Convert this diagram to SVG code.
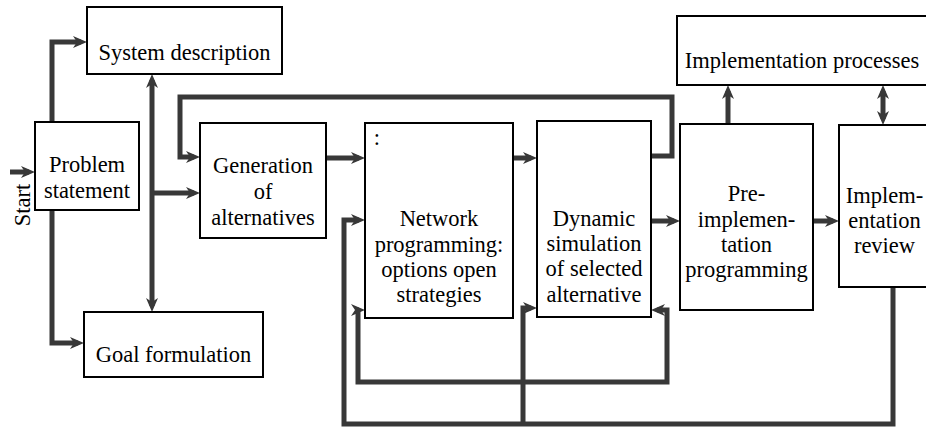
<svg xmlns="http://www.w3.org/2000/svg" width="926" height="428" viewBox="0 0 926 428">
<style>
.box{fill:#fff;stroke:#000;stroke-width:2}
.t{font-family:"Liberation Serif","Times New Roman",serif;font-size:22.5px;fill:#000;text-anchor:middle}
.c{fill:none;stroke:#383838;stroke-width:5;stroke-linejoin:miter;marker-end:url(#ah)}
.both{marker-start:url(#ah)}
</style>
<defs>
<marker id="ah" markerUnits="userSpaceOnUse" viewBox="0 0 14 14" markerWidth="14" markerHeight="14" refX="8" refY="7" orient="auto-start-reverse">
<path d="M0,1 L14,7 L0,13 L4,7 z" fill="#383838"/>
</marker>
</defs>
<rect width="926" height="428" fill="#fff"/>
<g id="connectors">
<path class="c" d="M10,172 H29"/>
<path class="c" d="M52,122 V42 H81"/>
<path class="c" d="M52,210 V343 H78"/>
<path class="c both" d="M152,80 V306"/>
<path class="c" d="M152,193 H194"/>
<path class="c" d="M651,156 H672 V97 H180 V157 H194"/>
<path class="c" d="M326,158 H359"/>
<path class="c" d="M513,158 H531"/>
<path class="c" d="M651,221 H674"/>
<path class="c" d="M813,221 H833"/>
<path class="c" d="M728,124 V91"/>
<path class="c both" d="M883,119 V91"/>
<path class="c" d="M893,287 V424 H344 V220 H359"/>
<path class="c" d="M523,424 V308 H531"/>
<path class="c both" d="M359,310 H358 V382 H667 V310 H657"/>
</g>
<g id="start"><text class="t" transform="translate(30,205) rotate(-90)">Start</text></g>
<g id="system-description"><rect class="box" x="87" y="7" width="195" height="67"/><text class="t" x="184.5" y="60">System description</text></g>
<g id="problem-statement"><rect class="box" x="35" y="122" width="104" height="88"/><text class="t" x="87" y="172">Problem</text><text class="t" x="87" y="198">statement</text></g>
<g id="goal-formulation"><rect class="box" x="84" y="312" width="179" height="65"/><text class="t" x="173.5" y="362">Goal formulation</text></g>
<g id="generation"><rect class="box" x="200" y="123" width="126" height="115"/><text class="t" x="263" y="173">Generation</text><text class="t" x="263" y="199">of</text><text class="t" x="263" y="225">alternatives</text></g>
<g id="network"><rect class="box" x="365" y="123" width="148" height="195"/><text class="t" x="377" y="145">:</text><text class="t" x="439" y="226">Network</text><text class="t" x="439" y="252">programming:</text><text class="t" x="439" y="277">options open</text><text class="t" x="439" y="302">strategies</text></g>
<g id="dynamic"><rect class="box" x="537" y="121" width="114" height="196"/><text class="t" x="594" y="226">Dynamic</text><text class="t" x="594" y="251">simulation</text><text class="t" x="594" y="276">of selected</text><text class="t" x="594" y="302">alternative</text></g>
<g id="pre-implementation"><rect class="box" x="680" y="124" width="133" height="186"/><text class="t" x="746.5" y="201">Pre-</text><text class="t" x="746.5" y="227">implemen-</text><text class="t" x="746.5" y="252">tation</text><text class="t" x="746.5" y="277">programming</text></g>
<g id="implementation-processes"><rect class="box" x="677" y="16" width="260" height="69"/><text class="t" x="802" y="68">Implementation processes</text></g>
<g id="implementation-review"><rect class="box" x="839" y="125" width="100" height="162"/><text class="t" x="884.5" y="203">Implem-</text><text class="t" x="884.5" y="228">entation</text><text class="t" x="884.5" y="253">review</text></g>
</svg>
